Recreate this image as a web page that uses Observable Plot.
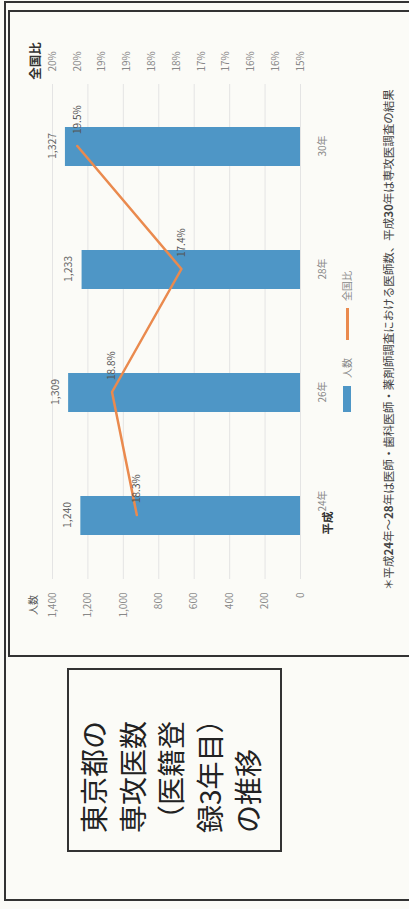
<!DOCTYPE html>
<html lang="ja">
<head>
<meta charset="utf-8">
<script src="https://cdn.jsdelivr.net/npm/d3@7"></script>
<script src="https://cdn.jsdelivr.net/npm/@observablehq/plot@0.6"></script>
<style>
  html, body { margin:0; padding:0; width:409px; height:909px; overflow:hidden; background:#fbfbf7; }
  #land { position:absolute; left:0; top:0; width:909px; height:409px; overflow:hidden;
          transform-origin:0 0; transform:translate(0px, 909px) rotate(-90deg);
          font-family:"Noto Sans CJK JP","Noto Sans",sans-serif; background:#fbfbf7; }
  .abs { position:absolute; box-sizing:border-box; }
  #outer { left:8px; top:4px; width:900px; height:430px; border:2.5px solid #333; }
  #chartbox { left:252px; top:8px; width:647px; height:430px; border:2.5px solid #333; }
  #titlebox { left:57px; top:67px; width:184px; height:215px; border:2px solid #333; }
  #title { left:76px; top:74px; font-size:28px; line-height:38.5px; color:#222; white-space:nowrap; }
  #plotwrap { left:260px; top:10px; }
  #note { left:319px; top:380px; font-size:11.5px; line-height:16px; color:#444; white-space:nowrap; }
  .lg { font-size:10px; color:#888; line-height:14px; white-space:nowrap; }
</style>
</head>
<body>
<div id="land">
  <div id="outer" class="abs"></div>
  <div id="chartbox" class="abs"></div>
  <div id="titlebox" class="abs"></div>
  <div id="title" class="abs">東京都の<br>専攻医数<br>（医籍登<br>録3年目）<br>の推移</div>
  <div id="plotwrap" class="abs"></div>
  <div class="abs" style="left:262px;top:26px;width:52px;text-align:right;font-size:10px;color:#555;line-height:14px;">人数</div>
  <div class="abs" style="left:818px;top:26px;width:60px;text-align:center;font-size:12.5px;font-weight:bold;color:#333;line-height:18px;">全国比</div>
  <div class="abs" style="left:497px;top:343px;width:26px;height:8px;background:#4e96c6;"></div>
  <div class="abs lg" style="left:531px;top:340px;">人数</div>
  <div class="abs" style="left:569px;top:346px;width:32px;height:2.5px;background:#ea8a4e;"></div>
  <div class="abs lg" style="left:608px;top:340px;">全国比</div>
  <div id="note" class="abs">＊平成<b>24</b>年～<b>28</b>年は医師・歯科医師・薬剤師調査における医師数、平成<b>30</b>年は専攻医調査の結果</div>
</div>
<script>
const era = "平成";
const years = ["24年", "26年", "28年", "30年"];
const counts = [1240, 1309, 1233, 1327];
const shares = [18.3, 18.8, 17.4, 19.5];
const leftTicks = [0, 200, 400, 600, 800, 1000, 1200, 1400];
const leftTickLabels = ["0", "200", "400", "600", "800", "1,000", "1,200", "1,400"];
const rightTicks = [15, 15.5, 16, 16.5, 17, 17.5, 18, 18.5, 19, 19.5, 20];
const rightTickLabels = ["15%", "16%", "16%", "17%", "17%", "18%", "18%", "19%", "19%", "20%", "20%"];
const countDomain = [0, 1400];
const shareDomain = [15, 20];

const toLeft = v => (v - shareDomain[0]) / (shareDomain[1] - shareDomain[0]) * countDomain[1];
const rightMap = new Map(rightTicks.map((t, i) => [toLeft(t), rightTickLabels[i]]));
const leftMap = new Map(leftTicks.map((t, i) => [t, leftTickLabels[i]]));
const rows = years.map((y, i) => ({year: y, count: counts[i], share: shares[i], shareY: toLeft(shares[i])}));

const chart = Plot.plot({
  width: 630, height: 330,
  marginLeft: 70, marginRight: 65, marginTop: 42, marginBottom: 40,
  style: {background: "transparent", fontFamily: '"Noto Sans CJK JP","Noto Sans",sans-serif', overflow: "visible"},
  x: {domain: years, paddingInner: 0.685, paddingOuter: 0.3425, axis: null},
  y: {domain: countDomain, axis: null},
  marks: [
    Plot.gridY(leftTicks, {stroke: "#e4e4e4", strokeOpacity: 1, strokeWidth: 1}),
    Plot.barY(rows, {x: "year", y: "count", fill: "#4e96c6"}),
    Plot.line(rows, {x: "year", y: "shareY", stroke: "#ea8a4e", strokeWidth: 2.5}),
    Plot.text(rows, {x: "year", y: "count", text: d => d3.format(",")(d.count), dy: -13, fill: "#666", fontSize: 10.5}),
    Plot.text(rows, {x: "year", y: "shareY", text: d => d.share.toFixed(1) + "%", dx: 12, textAnchor: "start", fill: "#555", fontSize: 10}),
    Plot.axisY(leftTicks, {anchor: "left", tickSize: 0, tickPadding: 14, label: null, tickFormat: d => leftMap.get(d), fill: "#888", fontSize: 10}),
    Plot.axisY(rightTicks.map(toLeft), {anchor: "right", tickSize: 0, tickPadding: 12, label: null, tickFormat: d => rightMap.get(d), fill: "#888", fontSize: 10}),
    Plot.axisX(years.slice(0, 1), {anchor: "bottom", tickSize: 0, tickPadding: 18, dx: 14, label: null, fill: "#888", fontSize: 10}),
    Plot.axisX(years.slice(1), {anchor: "bottom", tickSize: 0, tickPadding: 18, label: null, fill: "#888", fontSize: 10}),
    Plot.text([era], {x: () => years[0], y: () => 0, dx: -8, dy: 28, fill: "#333", fontWeight: "bold", fontSize: 11.5})
  ]
});
document.getElementById("plotwrap").appendChild(chart);
</script>
</body>
</html>
